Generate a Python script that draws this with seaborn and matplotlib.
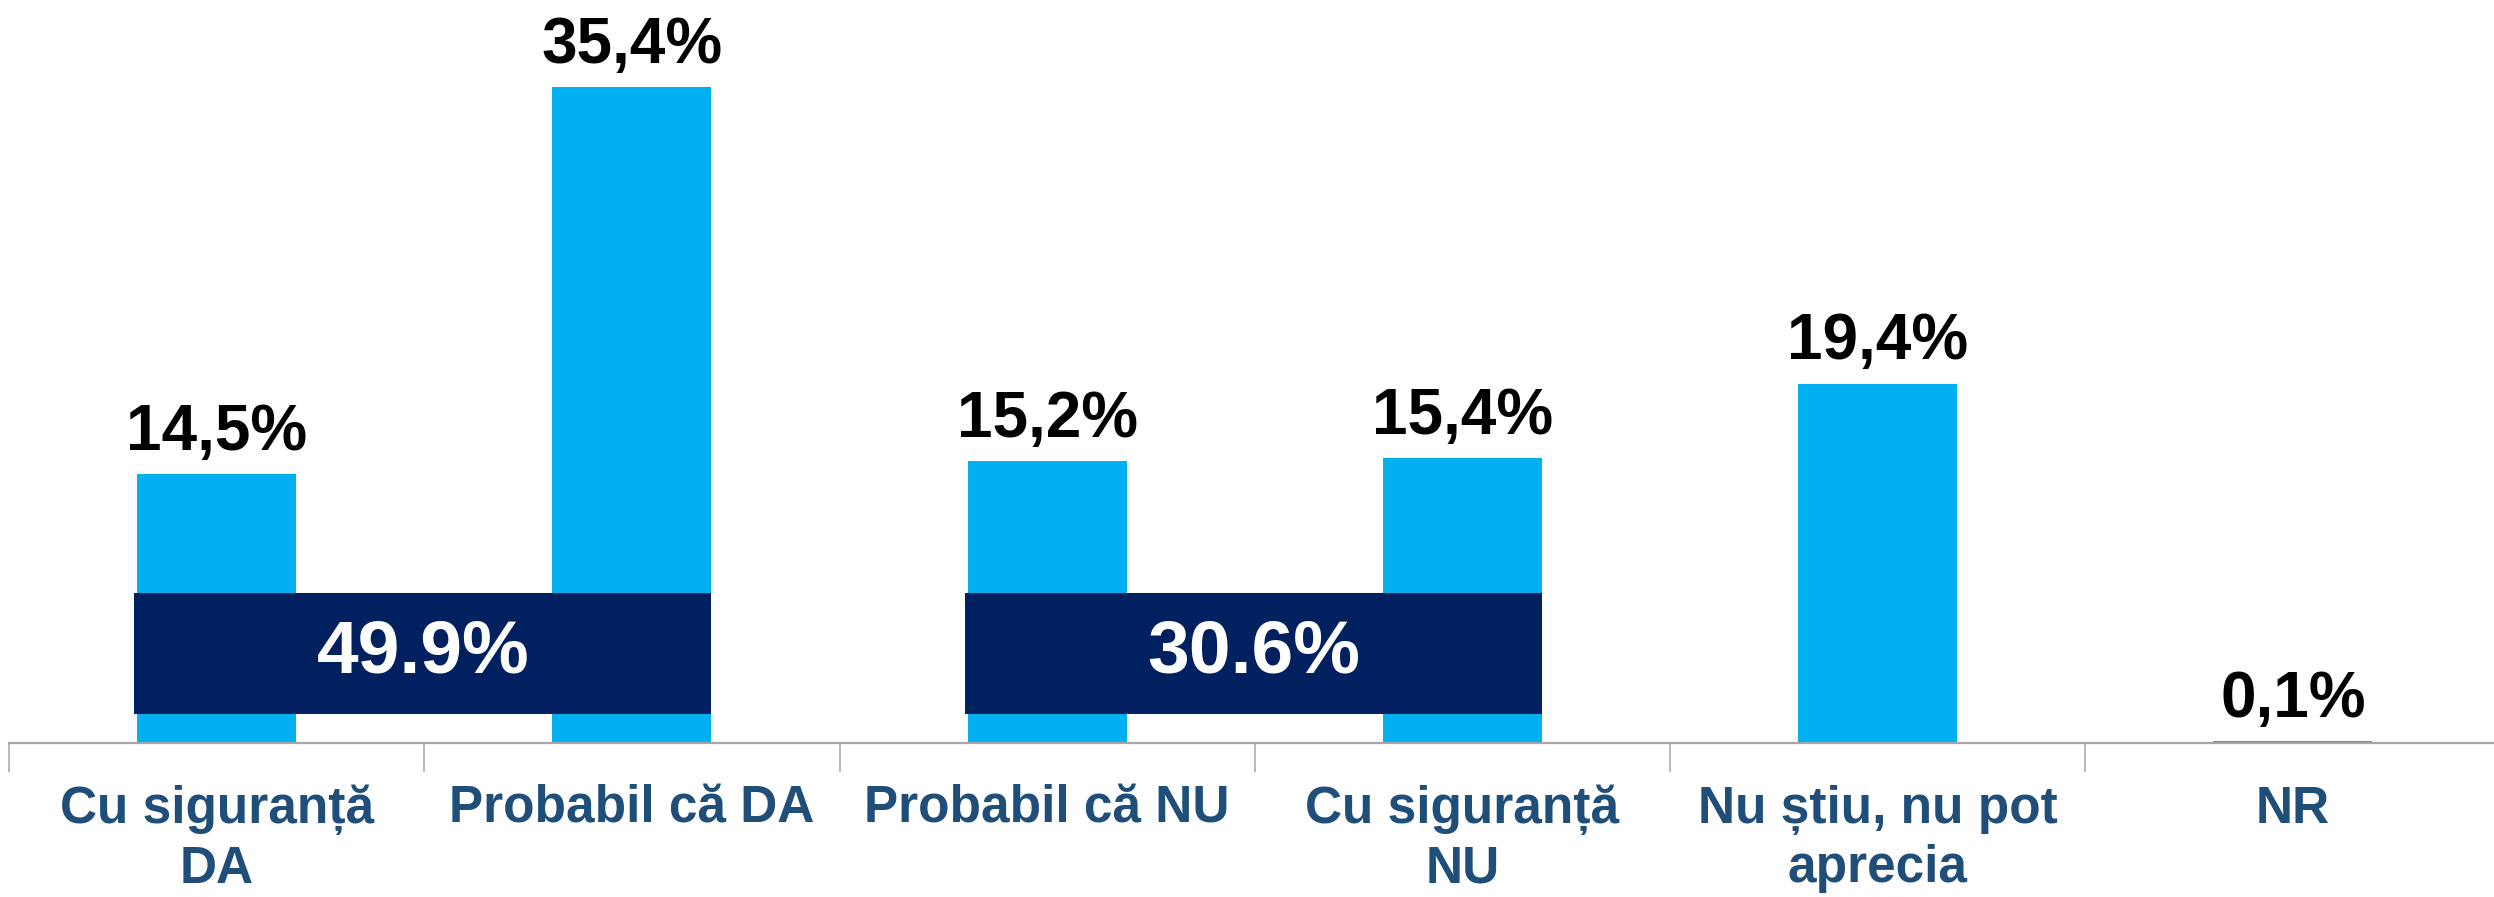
import numpy as np
import pandas as pd
import matplotlib
matplotlib.use('Agg')
import matplotlib.pyplot as plt
import seaborn as sns
from matplotlib.patches import Rectangle

# ── Data ──────────────────────────────────────────────────────────────────
categories = ['Cu siguranță\nDA', 'Probabil că DA', 'Probabil că NU',
              'Cu siguranță\nNU', 'Nu știu, nu pot\naprecia', 'NR']
values = [14.5, 35.4, 15.2, 15.4, 19.4, 0.1]
value_labels = ['14,5%', '35,4%', '15,2%', '15,4%', '19,4%', '0,1%']

# grouped totals: (first bar index, last bar index, label)
group_spans = [(0, 1), (2, 3)]
group_labels = ['49.9%', '30.6%']

BAR_COLOR = '#00B0F0'
BOX_COLOR = '#002060'
LABEL_COLOR = '#1F4E79'
AXIS_COLOR = '#A6A6A6'
BAR_W = 0.383

sns.set_style('white')
plt.rcParams['font.family'] = ['Liberation Sans', 'DejaVu Sans']
plt.rcParams['font.weight'] = 'bold'

df = pd.DataFrame({'cat': categories, 'val': values})

fig = plt.figure(figsize=(24.94, 8.97), dpi=100)
ax = fig.add_axes([9 / 2494, 154 / 897, 0.999, 0.8263])

sns.barplot(data=df, x='cat', y='val', color=BAR_COLOR, width=BAR_W,
            saturation=1, linewidth=0, ax=ax)

ax.set_xlim(-0.5, 5.5)
ax.set_ylim(0, 40)

# value labels above bars
ax.bar_label(ax.containers[0], labels=value_labels, padding=8,
             fontsize=46, fontweight='bold', color='black')

# dark boxes for the grouped totals
for (i0, i1), lab in zip(group_spans, group_labels):
    x0 = i0 - BAR_W / 2 - 0.007
    x1 = i1 + BAR_W / 2
    ax.add_patch(Rectangle((x0, 1.56), x1 - x0, 8.1 - 1.56,
                           facecolor=BOX_COLOR, edgecolor='none', zorder=3))
    ax.text((x0 + x1) / 2, 4.85, lab, ha='center', va='center',
            fontsize=54, fontweight='bold', color='white', zorder=4)

# axes styling
for s in ['top', 'right', 'left']:
    ax.spines[s].set_visible(False)
ax.spines['bottom'].set_color(AXIS_COLOR)
ax.spines['bottom'].set_linewidth(1.6)
ax.spines['bottom'].set_zorder(5)
ax.set_yticks([])
ax.set_xlabel('')
ax.set_ylabel('')

ax.set_xticks(range(len(categories)))
ax.set_xticklabels(categories, fontsize=37, fontweight='bold',
                   color=LABEL_COLOR, linespacing=1.25)
ax.set_xticks(np.arange(-0.5, 6.0, 1.0), minor=True)
ax.tick_params(axis='x', which='major', bottom=True, length=0, pad=30)
ax.tick_params(axis='x', which='minor', bottom=True, length=21, width=1.1,
               color=AXIS_COLOR, direction='out')

fig.savefig('out.png', dpi=100)
